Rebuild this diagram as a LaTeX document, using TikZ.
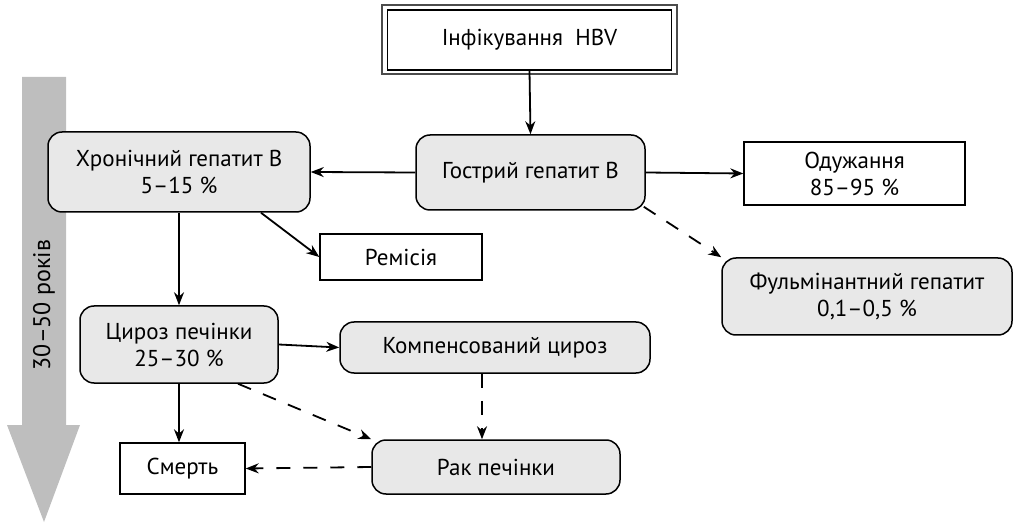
\documentclass[tikz,border=0pt]{standalone}
\usepackage{fontspec}
\setmainfont{PT Sans}
\usetikzlibrary{arrows.meta}
\begin{document}
\begin{tikzpicture}[x=1pt,y=-1pt,
  every node/.style={font=\fontsize{23}{27}\selectfont, align=center, inner sep=0pt},
  rbox/.style={draw=black, line width=1.5pt, fill=boxgray, rounded corners=14pt},
  sbox/.style={draw=black, line width=1.4pt, fill=white},
  arr/.style={line width=1.8pt, -{Stealth[length=13pt,width=10pt]}},
  darr/.style={arr, dash pattern=on 14pt off 13pt}]
\definecolor{boxgray}{RGB}{232,232,232}
\definecolor{biggray}{RGB}{190,190,190}
\useasboundingbox (0,0) rectangle (1022,526);
% big time arrow
\fill[biggray] (22,77) -- (66,77) -- (66,425) -- (80,425) -- (44,522) -- (7,425) -- (22,425) -- cycle;
\node[rotate=90, font=\fontsize{24}{28}\selectfont] (yrs) at (44,305) {30–50 років};
% top double box
\draw[line width=1.2pt, draw=black!70] (382,5) rectangle (677,74);
\node[sbox, minimum width=284pt, minimum height=60pt] (inf) at (529.5,40) {Інфікування\ \ HBV};
% nodes
\node[rbox, minimum width=262pt, minimum height=80pt] (chr) at (179,172) {Хронічний гепатит В\\5–15 \%};
\node[rbox, minimum width=229pt, minimum height=75pt] (acu) at (530.5,172.5) {Гострий гепатит В};
\node[sbox, minimum width=221pt, minimum height=63pt] (rec) at (854.5,173.5) {Одужання\\85–95 \%};
\node[sbox, minimum width=162pt, minimum height=46pt] (rem) at (401,257) {Ремісія};
\node[rbox, minimum width=290pt, minimum height=77pt] (ful) at (867,296.5) {Фульмінантний гепатит\\0,1–0,5 \%};
\node[rbox, minimum width=198pt, minimum height=77pt] (cir) at (179,344.5) {Цироз печінки\\25–30 \%};
\node[rbox, minimum width=310pt, minimum height=51pt] (comp) at (495,347.5) {Компенсований цироз};
\node[sbox, minimum width=125pt, minimum height=51pt] (dth) at (182.5,468.5) {Смерть};
\node[rbox, minimum width=248pt, minimum height=54pt] (can) at (496,467) {Рак печінки};
% connectors
\draw[arr] (inf.south) -- (acu.north);
\draw[arr] (acu.west) -- (chr.east);
\draw[arr] (acu.east) -- (rec.west);
\draw[darr] (acu.south east) ++(-2,-4) coordinate (a1) (a1) -- (ful.north west);
\draw[arr] (chr.south -| cir.north) -- (cir.north);
\draw[arr] (chr.south) ++(82,0) coordinate (c1) (c1) -- (rem.west);
\draw[arr] (cir.east) -- (comp.west);
\coordinate (c2) at (179,383);
\draw[arr] (c2) -- (c2 |- dth.north);
\draw[darr] (cir.south) ++(59,0) coordinate (c3) (c3) -- (can.north west);
\draw[darr] (comp.south) ++(-13,0) coordinate (c4) (c4) -- (c4 |- can.north);
\draw[darr] (can.west) -- (dth.east);
\end{tikzpicture}
\end{document}
